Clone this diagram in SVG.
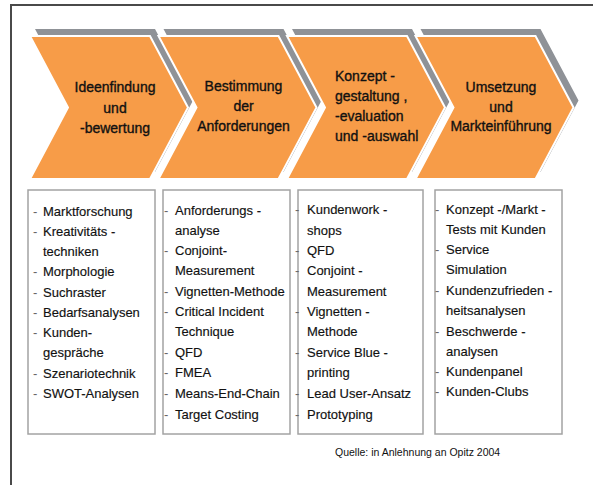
<svg xmlns="http://www.w3.org/2000/svg" width="593" height="485" viewBox="0 0 593 485">
<style>
.sh{fill:#8f9297}
.ch{fill:#f79c48;stroke:#fff;stroke-width:2}
.ht{font-family:"Liberation Sans",Arial,sans-serif;font-size:14px;fill:#111;stroke:#111;stroke-width:0.35}
.bx{fill:#fff;stroke:#a3a3a3;stroke-width:1.5}
.it{font-family:"Liberation Sans",Arial,sans-serif;font-size:13px;fill:#111;stroke:#111;stroke-width:0.15}
.d{font-family:"Liberation Sans",Arial,sans-serif;font-size:13px;fill:#666}
</style>
<defs>
<path id="chev" d="M0,36 L120,36 L158,107.5 L120,179 L0,179 L38,107.5 Z"/>
</defs>
<rect width="593" height="485" fill="#fff"/>
<g id="frame" fill="none" stroke="#4a4a4a" stroke-width="2">
<path d="M11,485 L11,5 L593,5"/>
</g>
<g id="connectors"></g>
<g id="step1">
<use href="#chev" class="sh" transform="translate(35,-7)"/>
<use href="#chev" class="ch" transform="translate(30,0)"/>
<text class="ht" text-anchor="middle"><tspan x="115" y="92">Ideenfindung</tspan><tspan x="115" y="113">und</tspan><tspan x="115" y="133">-bewertung</tspan></text>
</g>
<g id="step2">
<use href="#chev" class="sh" transform="translate(163.5,-7)"/>
<use href="#chev" class="ch" transform="translate(158.5,0)"/>
<text class="ht" text-anchor="middle"><tspan x="243.5" y="91">Bestimmung</tspan><tspan x="243.5" y="111">der</tspan><tspan x="243.5" y="131">Anforderungen</tspan></text>
</g>
<g id="step3">
<use href="#chev" class="sh" transform="translate(292,-7)"/>
<use href="#chev" class="ch" transform="translate(287,0)"/>
<text class="ht"><tspan x="335" y="81">Konzept -</tspan><tspan x="335" y="101">gestaltung ,</tspan><tspan x="335" y="121">-evaluation</tspan><tspan x="335" y="141">und  -auswahl</tspan></text>
</g>
<g id="step4">
<use href="#chev" class="sh" transform="translate(420.5,-7)"/>
<use href="#chev" class="ch" transform="translate(415.5,0)"/>
<text class="ht" text-anchor="middle"><tspan x="501" y="92">Umsetzung</tspan><tspan x="501" y="112">und</tspan><tspan x="501" y="131">Markteinführung</tspan></text>
</g>
<g id="box1">
<rect class="bx" x="28" y="190" width="127" height="244"/>
<text class="d"><tspan x="33" y="216">-</tspan><tspan x="33" y="236">-</tspan><tspan x="33" y="276">-</tspan><tspan x="33" y="297">-</tspan><tspan x="33" y="317">-</tspan><tspan x="33" y="337">-</tspan><tspan x="33" y="378">-</tspan><tspan x="33" y="398">-</tspan></text>
<text class="it"><tspan x="43" y="216">Marktforschung</tspan><tspan x="43" y="236">Kreativitäts -</tspan><tspan x="43" y="256">techniken</tspan><tspan x="43" y="276">Morphologie</tspan><tspan x="43" y="297">Suchraster</tspan><tspan x="43" y="317">Bedarfsanalysen</tspan><tspan x="43" y="337">Kunden-</tspan><tspan x="43" y="357">gespräche</tspan><tspan x="43" y="378">Szenariotechnik</tspan><tspan x="43" y="398">SWOT-Analysen</tspan></text>
</g>
<g id="box2">
<rect class="bx" x="163" y="190" width="127" height="244"/>
<text class="d"><tspan x="164" y="215">-</tspan><tspan x="164" y="255">-</tspan><tspan x="164" y="296">-</tspan><tspan x="164" y="316">-</tspan><tspan x="164" y="357">-</tspan><tspan x="164" y="377">-</tspan><tspan x="164" y="398">-</tspan><tspan x="164" y="419">-</tspan></text>
<text class="it"><tspan x="175" y="215">Anforderungs -</tspan><tspan x="175" y="235">analyse</tspan><tspan x="175" y="255">Conjoint-</tspan><tspan x="175" y="275">Measurement</tspan><tspan x="175" y="296">Vignetten-Methode</tspan><tspan x="175" y="316">Critical  Incident</tspan><tspan x="175" y="336">Technique</tspan><tspan x="175" y="357">QFD</tspan><tspan x="175" y="377">FMEA</tspan><tspan x="175" y="398">Means-End-Chain</tspan><tspan x="175" y="419">Target Costing</tspan></text>
</g>
<g id="box3">
<rect class="bx" x="298" y="190" width="125" height="244"/>
<text class="d"><tspan x="295" y="214">-</tspan><tspan x="295" y="255">-</tspan><tspan x="295" y="275">-</tspan><tspan x="295" y="316">-</tspan><tspan x="295" y="357">-</tspan><tspan x="295" y="398">-</tspan><tspan x="295" y="419">-</tspan></text>
<text class="it"><tspan x="307" y="214">Kundenwork -</tspan><tspan x="307" y="235">shops</tspan><tspan x="307" y="255">QFD</tspan><tspan x="307" y="275">Conjoint -</tspan><tspan x="307" y="296">Measurement</tspan><tspan x="307" y="316">Vignetten -</tspan><tspan x="307" y="336">Methode</tspan><tspan x="307" y="357">Service Blue -</tspan><tspan x="307" y="377">printing</tspan><tspan x="307" y="398">Lead  User-Ansatz</tspan><tspan x="307" y="419">Prototyping</tspan></text>
</g>
<g id="box4">
<rect class="bx" x="435" y="190" width="127" height="244"/>
<text class="d"><tspan x="435" y="214">-</tspan><tspan x="435" y="254">-</tspan><tspan x="435" y="295">-</tspan><tspan x="435" y="336">-</tspan><tspan x="435" y="376">-</tspan><tspan x="435" y="396">-</tspan></text>
<text class="it"><tspan x="446" y="214">Konzept -/Markt -</tspan><tspan x="446" y="234">Tests mit Kunden</tspan><tspan x="446" y="254">Service</tspan><tspan x="446" y="274">Simulation</tspan><tspan x="446" y="295">Kundenzufrieden -</tspan><tspan x="446" y="315">heitsanalysen</tspan><tspan x="446" y="336">Beschwerde -</tspan><tspan x="446" y="356">analysen</tspan><tspan x="446" y="376">Kundenpanel</tspan><tspan x="446" y="396">Kunden-Clubs</tspan></text>
</g>
<g id="source">
<text x="335" y="456" font-family="Liberation Sans, Arial, sans-serif" font-size="10.5" fill="#111">Quelle: in Anlehnung an Opitz 2004</text>
</g>
</svg>
